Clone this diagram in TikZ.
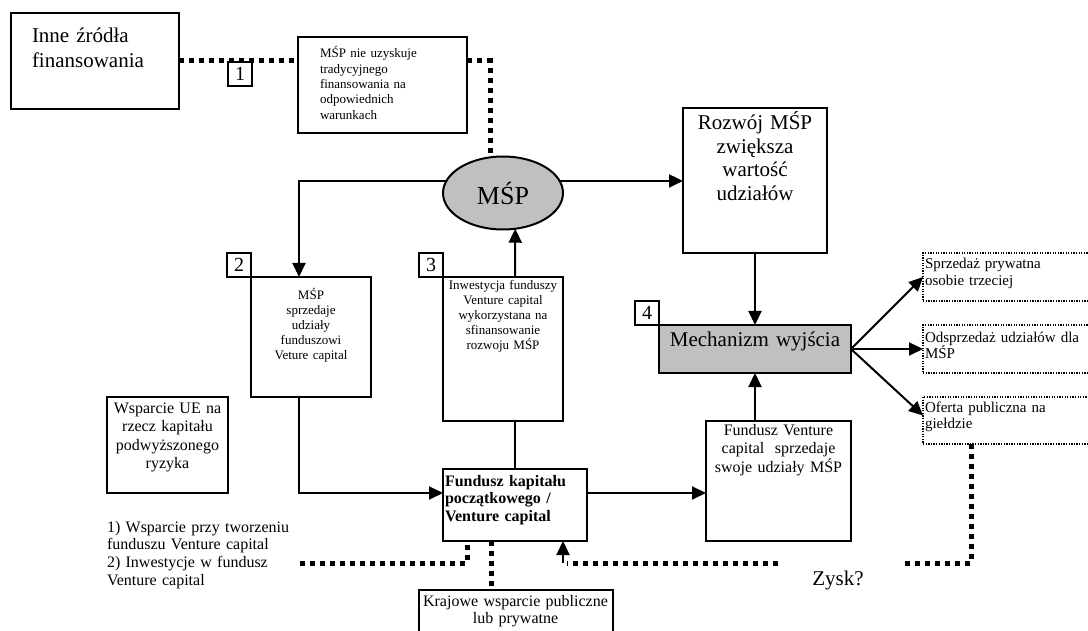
\documentclass[tikz,border=0pt]{standalone}
\usepackage{fontspec}
\setmainfont{Liberation Serif}
\usetikzlibrary{arrows.meta,calc,shapes.geometric}
\definecolor{boxgray}{HTML}{C0C0C0}
\newcommand\setfs[2]{\fontsize{#1}{#2}\selectfont}
\tikzset{
  every node/.style={inner sep=0pt, outer sep=0pt},
  box/.style={draw, line width=2pt, rectangle},
  numbox/.style={box, minimum width=24, minimum height=24, font=\setfs{20}{24}},
  dotbox/.style={draw, line width=1.3pt, dash pattern=on 1.3pt off 1.3pt},
  thickdot/.style={line width=5pt, dash pattern=on 5pt off 5pt},
  conn/.style={line width=2pt},
  arr/.style={line width=2pt, -{Triangle[length=14pt, width=13pt]}},
  ltext/.style={text width=#1, align=left},
  ctext/.style={text width=#1, align=center},
}
\begin{document}
\begin{tikzpicture}[x=1pt, y=-1pt]
\useasboundingbox (0,0) rectangle (1088,631);

% boxes
\node[box, minimum width=168, minimum height=96] (inne) at (95,61) {};
\node[numbox] (n1) at (240,74) {1};
\node[box, minimum width=169, minimum height=96] (mspnie) at (382.5,85) {};
\node[draw, line width=2pt, ellipse, fill=boxgray, minimum width=120, minimum height=73,
      font=\setfs{26}{30}] (msp) at (503,193) {MŚP};
\node[box, minimum width=144, minimum height=145] (rozwoj) at (755,180.5) {};
\node[numbox] (n2) at (239,265) {2};
\node[box, minimum width=120, minimum height=120] (box2) at (311,337) {};
\node[numbox] (n3) at (431,265) {3};
\node[box, minimum width=120, minimum height=144] (box3) at (503,349) {};
\node[numbox] (n4) at (647,313) {4};
\node[box, fill=boxgray, minimum width=192, minimum height=48] (mech) at (755,349) {};
\node[box, minimum width=121, minimum height=96] (ue) at (167.5,445) {};
\node[box, minimum width=144, minimum height=72] (fundusz) at (515,505) {};
\node[box, minimum width=145, minimum height=120] (fvc) at (778.5,481) {};
\node[box, minimum width=194, minimum height=71] (kraj) at (515.5,625.5) {};
% exit options run past the right edge of the page
\node[dotbox, minimum width=200, minimum height=48] (exA) at (1023,277) {};
\node[dotbox, minimum width=200, minimum height=48] (exB) at (1023,349) {};
\node[dotbox, minimum width=200, minimum height=47] (exC) at (1023,420.5) {};

% texts
\node[ltext=145, font=\setfs{21}{25}, anchor=base west] (inneT) at (32,43)
  {Inne źródła\\finansowania};
\node[ltext=140, font=\setfs{13}{15.3}, anchor=base west] (mspnieT) at (320,58)
  {MŚP nie uzyskuje\\tradycyjnego\\finansowania na\\odpowiednich\\warunkach};
\node[ctext=140, font=\setfs{21}{23.5}, anchor=base] (rozwojT) at (755,130)
  {Rozwój MŚP\\zwiększa\\wartość\\udziałów};
\node[ctext=116, font=\setfs{13}{15}, anchor=base] (box2T) at (311,300)
  {MŚP\\sprzedaje\\udziały\\funduszowi\\Veture capital};
\node[ctext=118, font=\setfs{13}{15}, anchor=base] (box3T) at (503,290)
  {Inwestycja funduszy\\Venture capital\\wykorzystana na\\sfinansowanie\\rozwoju MŚP};
\node[ctext=190, font=\setfs{21}{25}, anchor=base] (mechT) at (755,346)
  {Mechanizm wyjścia};
\node[ctext=119, font=\setfs{16}{18.5}, anchor=base] (ueT) at (167.5,413)
  {Wsparcie UE na\\rzecz kapitału\\podwyższonego\\ryzyka};
\node[ltext=190, font=\setfs{16}{17.7}, anchor=base west] (notes) at (107,532)
  {1) Wsparcie przy tworzeniu\\funduszu Venture capital\\2) Inwestycje w fundusz\\Venture capital};
\node[ltext=142, font=\setfs{16}{17.5}\bfseries, anchor=base west] (fundT) at (445,486)
  {Fundusz kapitału\\początkowego /\\Venture capital};
\node[ctext=143, font=\setfs{16}{18.8}, anchor=base] (fvcT) at (778.5,435)
  {Fundusz Venture\\capital\ \ sprzedaje\\swoje udziały MŚP};
\node[ctext=190, font=\setfs{16}{17}, anchor=base] (krajT) at (515.5,606)
  {Krajowe wsparcie publiczne\\lub prywatne};
\node[ltext=165, font=\setfs{15}{17}, anchor=base west] (exAT) at (925,269)
  {Sprzedaż prywatna\\osobie trzeciej};
\node[ltext=165, font=\setfs{15}{17}, anchor=base west] (exBT) at (925,342)
  {Odsprzedaż udziałów dla\\MŚP};
\node[ltext=165, font=\setfs{15}{17}, anchor=base west] (exCT) at (925,412)
  {Oferta publiczna na\\giełdzie};
\node[font=\setfs{21}{25}, anchor=base] (zysk) at (838,585) {Zysk?};

% free ends of the dotted links
\coordinate (wl) at (300,563);
\coordinate (zl) at (778,563);
\coordinate (zr) at (905,563);
\coordinate (b2in) at ($(box2.north)+(-12,0)$);
\coordinate (fk) at ($(fundusz.south west)+(48,0)$);
\coordinate (fa) at ($(fundusz.south east)+(-24,0)$);
\coordinate (fab) at (fa |- zl);

% dotted links
\draw[thickdot] (inne.east) -- (inne.east -| mspnie.west);
\draw[thickdot] (inne.east -| mspnie.east) -| (msp.110);
\draw[thickdot] (wl) -| ($(fundusz.south west)+(24,0)$);
\draw[thickdot] (fk) -- (fk |- kraj.north);
\draw[thickdot] (zl) -- ($(fab)+(4,0)$);
\draw[thickdot] ($(exC.south west)+(48,0)$) |- (zr);

% solid links
\draw[arr] (msp.168) -| (b2in);
\draw[arr] (msp.12) -- (msp.12 -| rozwoj.west);
\draw[arr] ($(box3.north)+(12,0)$) -- (msp.289);
\draw[conn] (fundusz.north) -- (fundusz.north |- box3.south);
\draw[arr] ($(box2.south)+(-12,0)$) |- ($(fundusz.west)+(0,-12)$);
\draw[arr] ($(fundusz.east)+(0,-12)$) -- ($(fvc.west)+(0,12)$);
\draw[arr] (mech.south |- fvc.north) -- (mech.south);
\draw[arr] (rozwoj.south) -- (mech.north);
\draw[arr] (fab) -- (fa);
\draw[arr] (mech.east) -- (exA.west);
\draw[arr] (mech.east) -- (exB.west);
\draw[arr] (mech.east) -- ($(exC.west)+(0,-5)$);
\end{tikzpicture}
\end{document}
